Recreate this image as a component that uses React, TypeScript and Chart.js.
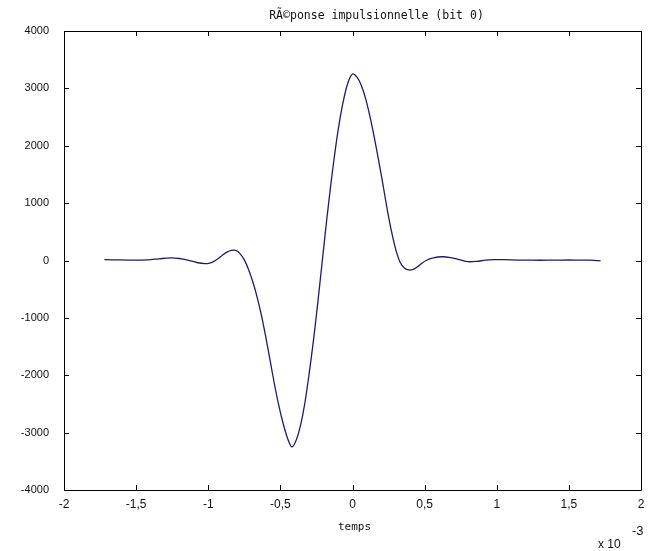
import React, { useEffect, useRef } from "react";
import { Chart, registerables } from "chart.js";

Chart.register(...registerables);

const TITLE = "RÃ©ponse impulsionnelle (bit 0)";
const X_LABEL = "temps";
const X_TICKS = [-2, -1.5, -1, -0.5, 0, 0.5, 1, 1.5, 2];
const Y_TICKS = [-4000, -3000, -2000, -1000, 0, 1000, 2000, 3000, 4000];

// time in units of 1e-3 s
const TIME = [
  -1.72, -1.6, -1.5, -1.42, -1.34, -1.26, -1.2, -1.14, -1.08,
  -1.02, -0.99, -0.96, -0.93, -0.9, -0.87, -0.84, -0.81, -0.78, -0.75, -0.72,
  -0.69, -0.66, -0.63, -0.6, -0.57, -0.54, -0.51, -0.48, -0.45, -0.42,
  -0.39, -0.36, -0.33, -0.3, -0.27, -0.24, -0.21, -0.18, -0.15, -0.12,
  -0.09, -0.06, -0.03, 0, 0.03, 0.06, 0.09, 0.12, 0.15, 0.18,
  0.21, 0.24, 0.27, 0.3, 0.33, 0.36, 0.39, 0.42, 0.45, 0.48,
  0.51, 0.56, 0.62, 0.68, 0.74, 0.8, 0.86, 0.92, 0.98, 1.05,
  1.15, 1.25, 1.35, 1.45, 1.55, 1.65, 1.72,
];
const RESPONSE = [
  15, 10, 5, 12, 30, 45, 35, 5, -35,
  -55, -45, -15, 35, 95, 145, 175, 175, 120, 10, -160,
  -380, -650, -970, -1350, -1760, -2170, -2540, -2850, -3100, -3250,
  -3130, -2870, -2480, -1960, -1380, -720, -20, 680, 1330, 1920,
  2420, 2820, 3110, 3250, 3200, 3060, 2830, 2520, 2160, 1760,
  1340, 900, 510, 190, -30, -130, -165, -155, -110, -50,
  0, 45, 65, 50, 15, -20, -15, 5, 15, 15,
  8, 5, 5, 8, 8, 5, -5,
];

const W = 652;
const H = 551;
const LEFT = 64;
const RIGHT = 641;
const TOP = 31;
const BOTTOM = 490;

const framePlugin = {
  id: "matlabFrame",
  afterDraw(chart: any) {
    const { ctx, chartArea } = chart;
    const { left, right, top, bottom } = chartArea;
    const xs = chart.scales.x;
    const ys = chart.scales.y;
    ctx.save();
    ctx.strokeStyle = "#000";
    ctx.lineWidth = 1;
    ctx.beginPath();
    ctx.rect(Math.round(left) + 0.5, Math.round(top) + 0.5, Math.round(right - left), Math.round(bottom - top));
    ctx.stroke();
    const tl = 5;
    ctx.beginPath();
    X_TICKS.forEach((v) => {
      const px = Math.round(xs.getPixelForValue(v)) + 0.5;
      ctx.moveTo(px, bottom);
      ctx.lineTo(px, bottom - tl);
      ctx.moveTo(px, top);
      ctx.lineTo(px, top + tl);
    });
    Y_TICKS.forEach((v) => {
      const py = Math.round(ys.getPixelForValue(v)) + 0.5;
      ctx.moveTo(left, py);
      ctx.lineTo(left + tl, py);
      ctx.moveTo(right, py);
      ctx.lineTo(right - tl, py);
    });
    ctx.stroke();

    ctx.fillStyle = "#111";
    ctx.font = "11.5px 'DejaVu Sans Mono'";
    ctx.textAlign = "center";
    ctx.textBaseline = "middle";
    ctx.fillText(TITLE, (left + right) / 2 + 24, 16);
    ctx.font = "11px 'DejaVu Sans Mono'";
    ctx.fillText(X_LABEL, xs.getPixelForValue(0) + 2, 527);
    ctx.font = "12px 'Liberation Sans'";
    ctx.textAlign = "left";
    ctx.fillText("x 10", 598, 545);
    ctx.font = "13px 'Liberation Sans'";
    ctx.fillText("-3", 632, 531);
    ctx.restore();
  },
};

export default function App() {
  const ref = useRef<HTMLCanvasElement | null>(null);
  useEffect(() => {
    if (!ref.current) return;
    const chart = new Chart(ref.current, {
      type: "line",
      data: {
        datasets: [
          {
            data: TIME.map((t, i) => ({ x: t, y: RESPONSE[i] })),
            borderColor: "#1c1c6e",
            borderWidth: 1.3,
            pointRadius: 0,
            fill: false,
            tension: 0.3,
          },
        ],
      },
      options: {
        animation: false,
        responsive: false,
        maintainAspectRatio: false,
        layout: { padding: { left: 0, right: W - RIGHT, top: TOP, bottom: 0 } },
        plugins: { legend: { display: false }, title: { display: false }, tooltip: { enabled: false } },
        scales: {
          x: {
            type: "linear",
            min: -2,
            max: 2,
            afterBuildTicks: (s: any) => {
              s.ticks = X_TICKS.map((v) => ({ value: v }));
            },
            afterFit: (s: any) => {
              s.height = H - BOTTOM;
            },
            grid: { display: false, drawTicks: false },
            border: { display: false },
            ticks: {
              color: "#111",
              font: { family: "'Liberation Sans'", size: 12 },
              padding: 7,
              maxRotation: 0,
              autoSkip: false,
              callback: (v: any) => String(v).replace(".", ","),
            },
          },
          y: {
            type: "linear",
            min: -4000,
            max: 4000,
            afterBuildTicks: (s: any) => {
              s.ticks = Y_TICKS.map((v) => ({ value: v }));
            },
            afterFit: (s: any) => {
              s.width = LEFT;
            },
            grid: { display: false, drawTicks: false },
            border: { display: false },
            ticks: {
              color: "#111",
              font: { family: "'Liberation Sans'", size: 11 },
              padding: 15,
              autoSkip: false,
              callback: (v: any) => String(v),
            },
          },
        },
      },
      plugins: [framePlugin],
    });
    return () => chart.destroy();
  }, []);
  return (
    <div style={{ position: "fixed", left: 0, top: 0, width: W, height: H, background: "#fff" }}>
      <canvas ref={ref} width={W} height={H} style={{ width: W, height: H }} />
    </div>
  );
}
